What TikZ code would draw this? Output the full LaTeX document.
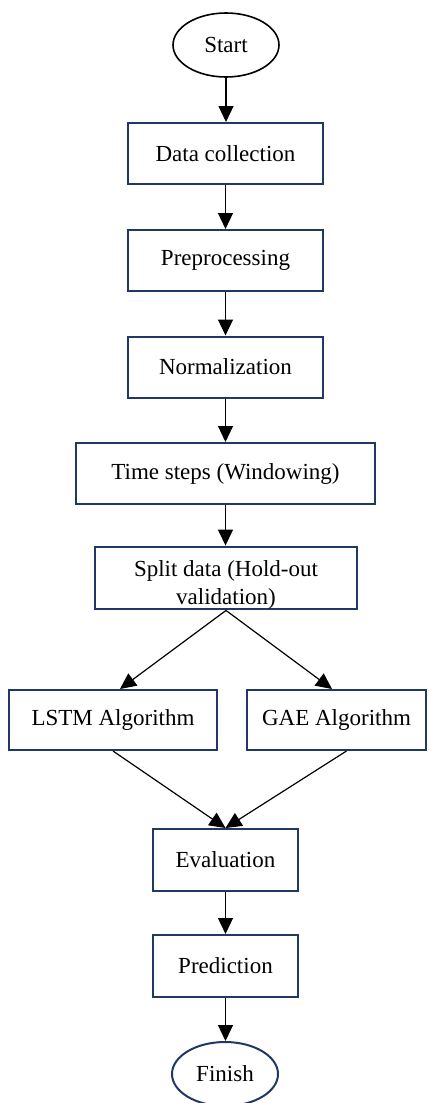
\documentclass[tikz,border=0pt]{standalone}
\usepackage{fontspec}
\setmainfont{Liberation Serif}
\usetikzlibrary{arrows.meta,shapes.geometric}
\definecolor{navy}{HTML}{1F3864}
\begin{document}
\begin{tikzpicture}[x=1pt,y=-1pt,
 txt/.style={font=\fontsize{23}{28}\selectfont},
 box/.style={txt,draw=navy,line width=2pt,rectangle,inner sep=0pt,align=center},
 term/.style={txt,ellipse,inner sep=0pt,minimum width=106pt,minimum height=64pt},
 arr/.style={draw=black,line width=1.2pt,-{Triangle[width=15pt,length=16pt]}}]
\useasboundingbox (0,0) rectangle (432,1103);
\fill[white] (0,0) rectangle (432,1103);
\node[term,draw=black,line width=1.6pt] (start) at (226,45) {Start};
\node[box,minimum width=195pt,minimum height=61pt] (data) at (225.5,153.5) {Data collection};
\node[box,minimum width=195pt,minimum height=61pt] (prep) at (225.5,260.5) {Preprocessing};
\node[box,minimum width=195pt,minimum height=61pt] (norm) at (225.5,367) {Normalization};
\node[box,minimum width=299pt,minimum height=61pt] (time) at (225.5,473.5) {Time steps (Windowing)};
\node[box,minimum width=262pt,minimum height=62pt] (split) at (226,578) {\rule{0pt}{30pt}Split data (Hold-out\\validation)};
\node[box,minimum width=208pt,minimum height=60pt] (lstm) at (113,720) {LSTM Algorithm};
\node[box,minimum width=179pt,minimum height=60pt] (gae) at (336.5,720) {GAE Algorithm};
\node[box,minimum width=145pt,minimum height=62pt] (eval) at (225.5,860) {Evaluation};
\node[box,minimum width=145pt,minimum height=62pt] (pred) at (225.5,966) {Prediction};
\node[term,draw=navy,line width=2pt] (finish) at (225,1074) {Finish};
\draw[arr] (start.south) -- (start.south |- data.north);
\draw[arr] (data.south) -- (data.south |- prep.north);
\draw[arr] (prep.south) -- (prep.south |- norm.north);
\draw[arr] (norm.south) -- (norm.south |- time.north);
\draw[arr] (time.south) -- (time.south |- split.north);
\draw[arr] (split.south) -- ([xshift=7pt]lstm.north);
\draw[arr] (split.south) -- ([xshift=-4.5pt]gae.north);
\draw[arr] (lstm.south) -- (eval.north);
\draw[arr] ([xshift=10pt]gae.south) -- (eval.north);
\draw[arr] (eval.south) -- (eval.south |- pred.north);
\draw[arr] (pred.south) -- (pred.south |- finish.north);
\end{tikzpicture}
\end{document}
